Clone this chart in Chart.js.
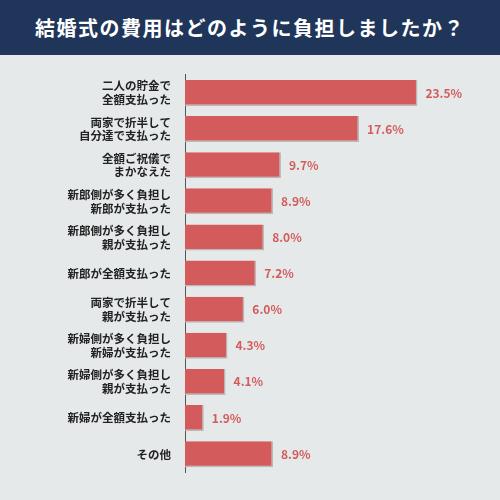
<!DOCTYPE html>
<html>
<head>
<meta charset="utf-8">
<script src="https://cdn.jsdelivr.net/npm/chart.js@4"></script>
<style>
  body { margin: 0; width: 500px; height: 500px; background: #e6e9ea; font-family: "Noto Sans CJK JP", sans-serif; overflow: hidden; }
  #title { height: 55px; background: #1f3559; color: #fff; font-weight: bold; font-size: 20px; text-align: center; line-height: 55px; letter-spacing: 1.5px; }
  #wrap { position: absolute; left: 0; top: 62px; width: 500px; height: 430px; }
</style>
</head>
<body>
<div id="title">結婚式の費用はどのように負担しましたか？</div>
<div id="wrap"><canvas id="c"></canvas></div>
<script>
// 回答項目と割合(%)
const categories = [
    ["二人の貯金で", "全額支払った"],
    ["両家で折半して", "自分達で支払った"],
    ["全額ご祝儀で", "まかなえた"],
    ["新郎側が多く負担し", "新郎が支払った"],
    ["新郎側が多く負担し", "親が支払った"],
    "新郎が全額支払った",
    ["両家で折半して", "親が支払った"],
    ["新婦側が多く負担し", "新婦が支払った"],
    ["新婦側が多く負担し", "親が支払った"],
    "新婦が全額支払った",
    "その他"
];
const values = [23.5, 17.6, 9.7, 8.9, 8.0, 7.2, 6.0, 4.3, 4.1, 1.9, 8.9];

const valueLabels = {
    id: 'valueLabels',
    afterDatasetsDraw(chart) {
        const ctx = chart.ctx;
        ctx.save();
        ctx.fillStyle = '#d35b5b';
        ctx.font = 'bold 12px "Noto Sans CJK JP"';
        ctx.textBaseline = 'middle';
        chart.getDatasetMeta(0).data.forEach((bar, i) => {
            ctx.fillText(values[i].toFixed(1) + '%', bar.x + 8, bar.y);
        });
        ctx.restore();
    }
};

new Chart(document.getElementById('c'), {
    type: 'bar',
    data: {
        labels: categories,
        datasets: [{
            data: values,
            backgroundColor: '#d35b5b',
            borderColor: '#b9b9b9',
            borderWidth: { top: 0, left: 0, right: 1.5, bottom: 1.5 },
            borderSkipped: false,
            categoryPercentage: 0.72,
            barPercentage: 1
        }]
    },
    options: {
        indexAxis: 'y',
        responsive: true,
        maintainAspectRatio: false,
        animation: false,
        layout: { padding: { left: 0, right: 40, top: 0, bottom: 0 } },
        plugins: { legend: { display: false }, tooltip: { enabled: false } },
        scales: {
            x: { min: 0, max: 27.8, display: false },
            y: {
                grid: { display: false },
                border: { color: '#555', width: 1 },
                ticks: { color: '#222', font: { size: 11.5, weight: 'bold', family: '"Noto Sans CJK JP"' }, padding: 6 },
                afterFit(scale) { scale.width = 185; }
            }
        }
    },
    plugins: [valueLabels]
});
</script>
</body>
</html>
